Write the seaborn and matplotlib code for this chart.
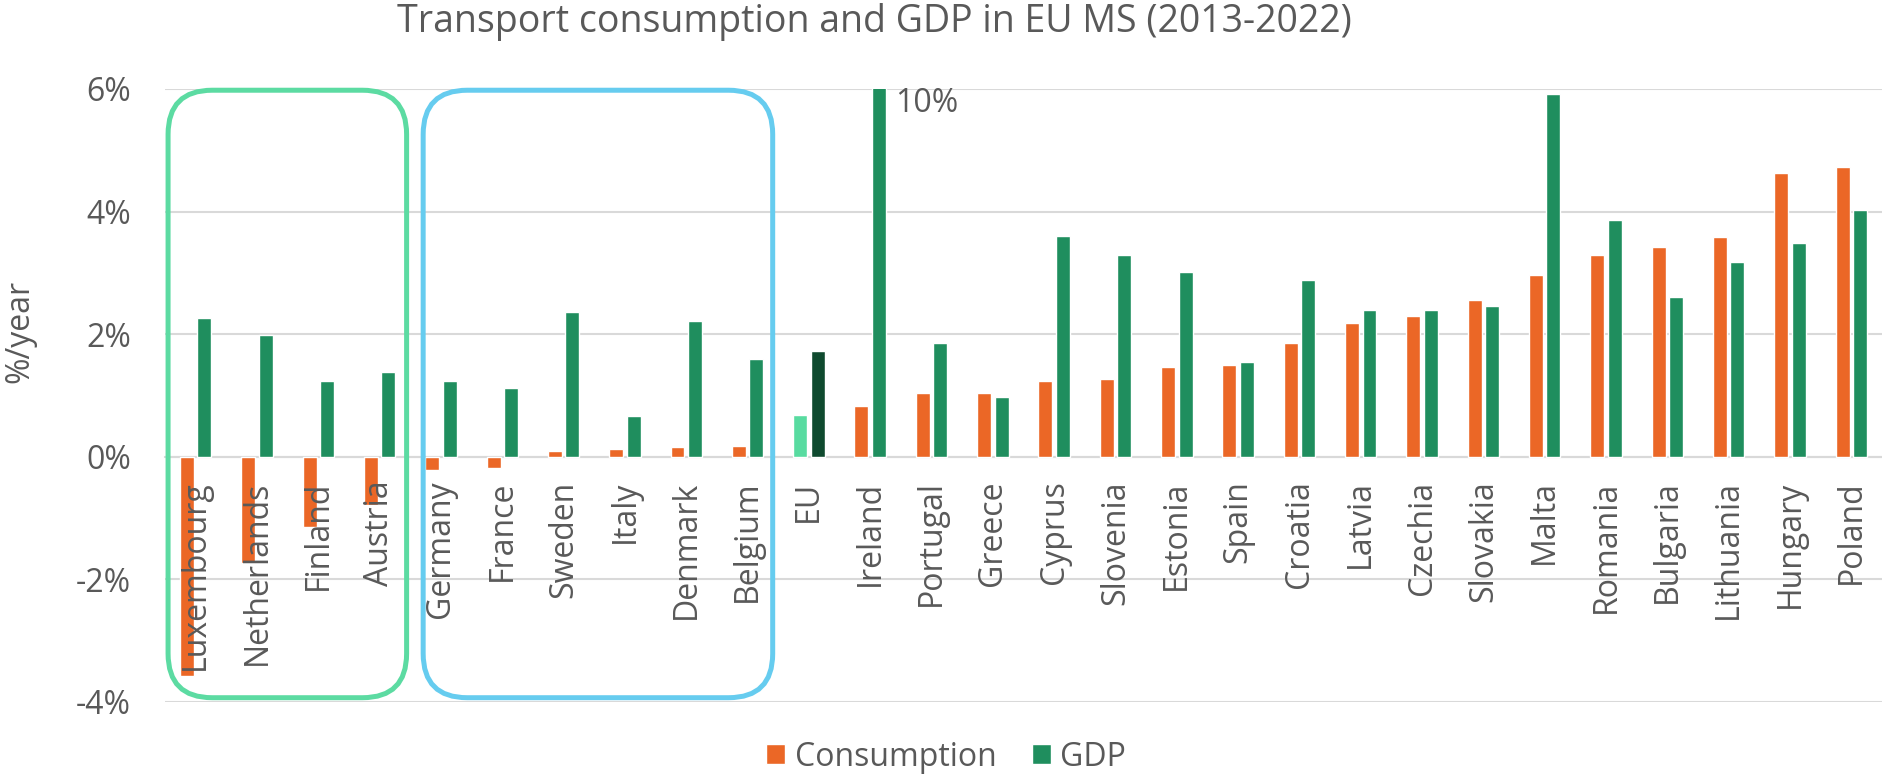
import matplotlib
matplotlib.use("Agg")
import matplotlib.pyplot as plt
from matplotlib.patches import FancyBboxPatch, Patch
import seaborn as sns
import pandas as pd

countries = ["Luxembourg", "Netherlands", "Finland", "Austria", "Germany", "France",
             "Sweden", "Italy", "Denmark", "Belgium", "EU", "Ireland", "Portugal",
             "Greece", "Cyprus", "Slovenia", "Estonia", "Spain", "Croatia", "Latvia",
             "Czechia", "Slovakia", "Malta", "Romania", "Bulgaria", "Lithuania",
             "Hungary", "Poland"]
consumption = [-3.57, -1.74, -1.15, -0.79, -0.21, -0.18, 0.10, 0.12, 0.16, 0.17,
               0.68, 0.83, 1.04, 1.04, 1.24, 1.27, 1.47, 1.49, 1.85, 2.19,
               2.29, 2.55, 2.96, 3.29, 3.43, 3.59, 4.63, 4.72]
gdp = [2.27, 1.98, 1.23, 1.38, 1.23, 1.12, 2.37, 0.66, 2.21, 1.59,
       1.72, 10.0, 1.85, 0.97, 3.60, 3.30, 3.01, 1.55, 2.88, 2.40,
       2.40, 2.46, 5.92, 3.86, 2.60, 3.18, 3.49, 4.02]
series = ["Consumption", "GDP"]
yticks = [-4, -2, 0, 2, 4, 6]
group_green = ("Luxembourg", "Austria")
group_blue = ("Germany", "Belgium")

C_ORANGE = "#EB6726"
C_GREEN = "#1F8E5E"
C_EU_CONS = "#58DBA0"
C_EU_GDP = "#0F4A2F"
TXT = "#595959"
GRID = "#D9D9D9"

df = pd.DataFrame({
    "country": countries * 2,
    "value": consumption + gdp,
    "series": [series[0]] * len(countries) + [series[1]] * len(countries),
})

sns.set_theme(style="white")
plt.rcParams["font.family"] = ["Open Sans", "DejaVu Sans"]

W, H = 1883, 775
fig = plt.figure(figsize=(W / 100, H / 100), dpi=100)
ax = fig.add_axes([165 / W, 1 - 702 / H, (1882 - 165) / W, (702 - 89) / H])

sns.barplot(data=df, x="country", y="value", hue="series", order=countries,
            hue_order=series, palette=[C_ORANGE, C_GREEN], width=0.57, gap=0.2,
            ax=ax, legend=False, saturation=1)

eu_i = countries.index("EU")
ax.containers[0][eu_i].set_facecolor(C_EU_CONS)
ax.containers[1][eu_i].set_facecolor(C_EU_GDP)

ax.set_ylim(-4, 6)
ax.set_xlim(-0.5, len(countries) - 0.5)
ax.set_yticks(yticks)
ax.set_yticklabels([f"{t}%" for t in yticks], fontsize=23, color=TXT)
ax.tick_params(axis="y", length=0, pad=24.5)
ax.grid(axis="y", color=GRID, linewidth=1.5)
ax.grid(axis="x", visible=False)
ax.set_axisbelow(True)
ax.xaxis.set_zorder(3)
for s in ["top", "right", "left"]:
    ax.spines[s].set_visible(False)
ax.spines["bottom"].set_position(("data", 0))
ax.spines["bottom"].set_color(GRID)
ax.spines["bottom"].set_linewidth(1.5)
ax.spines["bottom"].set_zorder(0.6)
ax.set_xlabel("")
ax.set_ylabel("")
ax.tick_params(axis="x", length=0, pad=17)
ax.set_xticks(range(len(countries)))
ax.set_xticklabels(countries, rotation=90, fontsize=23, color=TXT, va="top", ha="center")

# Ireland out-of-range annotation
ir = countries.index("Ireland")
ax.text(ir + 0.40, 5.77, f"{gdp[ir]:.0f}%", fontsize=23, color=TXT, va="center", ha="left")

# Rounded group boxes
def group_box(a, b, pad_l, pad_r, color):
    i0, i1 = countries.index(a), countries.index(b)
    x0, x1 = i0 - pad_l, i1 + pad_r
    y0, y1 = -3.93, 5.98
    p = FancyBboxPatch((x0, y0), x1 - x0, y1 - y0,
                       boxstyle="round,pad=0,rounding_size=0.72", fill=False,
                       edgecolor=color, linewidth=3.6, clip_on=False, zorder=5)
    ax.add_patch(p)

group_box(*group_green, 0.45, 0.44, "#5CDBA2")
group_box(*group_blue, 0.29, 0.41, "#66CCEF")

fig.text(874 / W, 1 - 22 / H, "Transport consumption and GDP in EU MS (2013-2022)",
         fontsize=27, color=TXT, ha="center", va="center")
fig.text(20 / W, 1 - 331 / H, "%/year", fontsize=23, color=TXT,
         rotation=90, ha="center", va="center")

handles = [Patch(facecolor=C_ORANGE), Patch(facecolor=C_GREEN)]
fig.legend(handles, series, loc="center", bbox_to_anchor=(946 / W, 1 - 757 / H),
           ncol=2, frameon=False, fontsize=23, labelcolor=TXT,
           handlelength=0.6, handleheight=0.6, handletextpad=0.3, columnspacing=1.1,
           borderpad=0)

fig.savefig("out.png", dpi=100)
